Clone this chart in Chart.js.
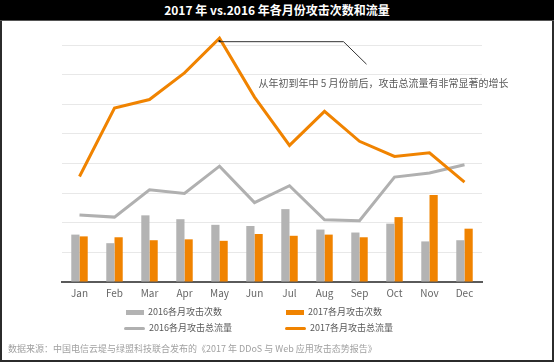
<!DOCTYPE html>
<html>
<head>
<meta charset="utf-8">
<script src="https://cdn.jsdelivr.net/npm/chart.js@4"></script>
<style>
  body { margin: 0; background: #fff; font-family: "Noto Sans CJK SC", "Noto Sans", sans-serif; }
  #page { position: relative; width: 554px; height: 362px; overflow: hidden; }
  #header {
    position: absolute; left: 0; top: 0; width: 554px; height: 21px;
    background: #000; color: #fff; font-weight: bold; font-size: 12px;
    line-height: 19px; text-align: center; border-bottom: 1px solid #555; box-sizing: border-box;
  }
  #frame {
    position: absolute; left: 0; top: 21px; width: 554px; height: 341px;
    border: 2px solid #2b2b2b; border-top: none; box-sizing: border-box;
  }
  #chart { position: absolute; left: 0; top: 0; }
  .legend-item { position: absolute; font-size: 9px; color: #595959; line-height: 12px; white-space: nowrap; }
  .legend-item .mark { display: inline-block; vertical-align: middle; margin-right: 4px; }
  #source { position: absolute; left: 8px; top: 342px; font-size: 9px; color: #a0a0a0; white-space: nowrap; }
</style>
</head>
<body>
<div id="page">
  <div id="frame"></div>
  <div id="header">2017 年 vs.2016 年各月份攻击次数和流量</div>
  <canvas id="chart" width="554" height="362"></canvas>
  <div id="legend"></div>
  <div id="source">数据来源：中国电信云堤与绿盟科技联合发布的《2017 年 DDoS 与 Web 应用攻击态势报告》</div>
</div>
<script>
// Data (grid units, axis has no visible ticks)
const months = ['Jan', 'Feb', 'Mar', 'Apr', 'May', 'Jun', 'Jul', 'Aug', 'Sep', 'Oct', 'Nov', 'Dec'];
const attacks2016 = [16.0, 13.1, 22.5, 21.2, 19.3, 18.9, 24.6, 17.7, 16.7, 19.7, 13.7, 14.1];
const attacks2017 = [15.4, 15.1, 14.1, 14.4, 13.9, 16.2, 15.6, 16.0, 15.1, 21.9, 29.4, 18.0];
const traffic2016 = [22.6, 21.9, 31.1, 29.9, 39.1, 26.8, 32.5, 21.0, 20.7, 35.4, 36.8, 39.6];
const traffic2017 = [35.6, 58.7, 61.6, 70.6, 82.3, 62.4, 46.1, 57.6, 47.5, 42.4, 43.6, 33.7];
const calloutText = '从年初到年中 5 月份前后，攻击总流量有非常显著的增长';

const grayColor = '#b3b3b3';
const orangeColor = '#f08300';
const fontFamily = '"Noto Sans CJK SC", "Noto Sans", sans-serif';

// Callout from the May peak of the 2017 traffic line
const calloutPlugin = {
    id: 'callout',
    afterDatasetsDraw(chart) {
        const meta = chart.getDatasetMeta(3);
        const peak = traffic2017.indexOf(Math.max(...traffic2017));
        const pt = meta.data[peak];
        const ctx = chart.ctx;
        const x0 = pt.x;
        const y0 = pt.y + 3;
        ctx.save();
        ctx.strokeStyle = '#333';
        ctx.lineWidth = 1;
        ctx.beginPath();
        ctx.moveTo(x0, y0 + 0.5);
        ctx.lineTo(x0 + 124, y0 + 0.5);
        ctx.lineTo(x0 + 147, y0 + 23);
        ctx.stroke();
        ctx.fillStyle = '#111';
        ctx.fillRect(x0 - 1, y0 - 1, 2, 2);
        ctx.fillStyle = '#595959';
        ctx.font = '10px ' + fontFamily;
        ctx.textBaseline = 'middle';
        ctx.textAlign = 'left';
        ctx.fillText(calloutText, x0 + 39, y0 + 42);
        ctx.restore();
    }
};

const ctx = document.getElementById('chart').getContext('2d');
const chart = new Chart(ctx, {
    data: {
        labels: months,
        datasets: [
            { type: 'bar', label: '2016各月攻击次数', data: attacks2016, backgroundColor: grayColor, order: 2 },
            { type: 'bar', label: '2017各月攻击次数', data: attacks2017, backgroundColor: orangeColor, order: 2 },
            { type: 'line', label: '2016各月攻击总流量', data: traffic2016, borderColor: '#b0b0b0', borderWidth: 3,
              pointRadius: 0, tension: 0, fill: false, order: 1 },
            { type: 'line', label: '2017各月攻击总流量', data: traffic2017, borderColor: orangeColor, borderWidth: 3,
              pointRadius: 0, tension: 0, fill: false, order: 0, clip: false }
        ]
    },
    options: {
        responsive: false,
        animation: false,
        devicePixelRatio: 1,
        layout: { padding: { left: 62, right: 72, top: 45, bottom: 58 } },
        datasets: { bar: { categoryPercentage: 0.47, barPercentage: 1.0 } },
        plugins: {
            legend: { display: false },
            tooltip: { enabled: false }
        },
        scales: {
            x: {
                offset: true,
                grid: { display: false, drawTicks: false },
                border: { display: true, color: '#5a5a5a', width: 2 },
                ticks: { color: '#666', padding: 5, font: { size: 10, family: fontFamily } }
            },
            y: {
                min: 0,
                max: 80,
                ticks: { display: false, stepSize: 10 },
                grid: { color: '#e8e8e8', lineWidth: 1, drawTicks: false },
                border: { display: false }
            }
        }
    },
    plugins: [calloutPlugin]
});

// Legend built from the datasets, two columns by two rows
const legendEl = document.getElementById('legend');
const legendPos = [
    { left: 126, top: 306 }, { left: 286, top: 306 },
    { left: 124, top: 322 }, { left: 285, top: 322 }
];
chart.data.datasets.forEach((ds, i) => {
    const item = document.createElement('div');
    item.className = 'legend-item';
    item.style.left = legendPos[i].left + 'px';
    item.style.top = legendPos[i].top + 'px';
    const mark = document.createElement('span');
    mark.className = 'mark';
    if (ds.type === 'bar') {
        mark.style.width = '18px';
        mark.style.height = '5px';
        mark.style.background = ds.backgroundColor;
    } else {
        mark.style.width = '21px';
        mark.style.height = '3px';
        mark.style.borderRadius = '2px';
        mark.style.background = ds.borderColor;
    }
    item.appendChild(mark);
    item.appendChild(document.createTextNode(ds.label));
    legendEl.appendChild(item);
});
</script>
</body>
</html>
